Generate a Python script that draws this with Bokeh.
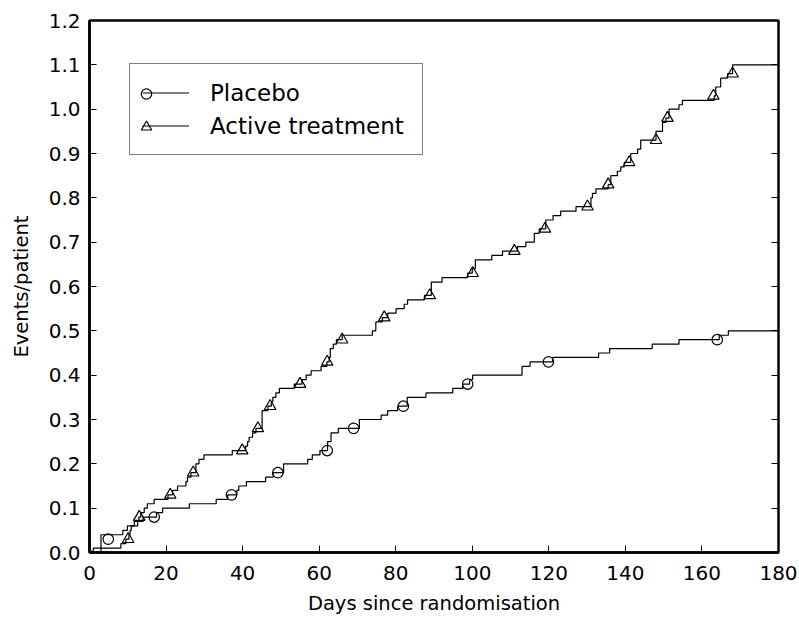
from bokeh.plotting import figure
from bokeh.models import Range1d, LinearAxis, FixedTicker, PrintfTickFormatter, Legend, LegendItem
from bokeh.embed import file_html
from bokeh.resources import INLINE

FONT = "DejaVu Sans"

# ---------------- data ----------------
series_names = ["Placebo", "Active treatment"]

# step curves: day at which each level starts, and the level (events/patient)
placebo_days = [0, 1.0, 3.0, 8.7, 9.9, 11.7, 14.0, 17.5, 19.1, 26.1,
                33.1, 36.1, 38.5, 39.0, 41.0, 46.0, 48.0, 50.7, 57.0, 58.2,
                60.2, 62.2, 63.1, 65.0, 70.5, 76.2, 77.9, 80.5, 83.0, 87.9,
                94.9, 97.5, 99.3, 100.1, 113.0, 115.1, 121.0, 133.0, 135.9, 147.0,
                154.0, 164.5, 166.9, 180.0]
placebo_vals = [0.00, 0.01, 0.04, 0.05, 0.06, 0.07, 0.08, 0.09, 0.10, 0.11,
                0.12, 0.13, 0.14, 0.15, 0.16, 0.17, 0.18, 0.20, 0.21, 0.22,
                0.23, 0.25, 0.27, 0.28, 0.30, 0.31, 0.32, 0.33, 0.35, 0.36,
                0.37, 0.38, 0.39, 0.40, 0.42, 0.43, 0.44, 0.45, 0.46, 0.47,
                0.48, 0.49, 0.50, 0.50]

active_days = [0, 3.0, 8.2, 9.5, 10.3, 10.6, 10.9, 12.6, 12.9, 13.4,
               14.3, 15.1, 16.9, 20.5, 21.7, 23.0, 25.2, 25.6, 26.5, 27.8,
               28.6, 29.9, 37.3, 40.8, 41.3, 41.7, 42.6, 43.5, 45.1, 46.6,
               47.5, 47.9, 48.7, 49.6, 53.5, 55.5, 56.6, 57.9, 60.5, 62.0,
               62.6, 62.9, 63.7, 64.5, 66.0, 73.9, 74.8, 76.5, 77.9, 80.1,
               82.2, 83.1, 87.5, 89.3, 92.1, 98.8, 100.0, 100.8, 105.1, 107.9,
               111.8, 114.0, 116.2, 117.5, 119.2, 121.1, 123.1, 127.1, 131.0, 131.4,
               132.3, 135.5, 136.2, 137.9, 138.8, 139.7, 141.4, 143.2, 144.0, 148.0,
               149.7, 150.6, 151.4, 154.0, 154.9, 163.2, 163.6, 164.9, 166.7, 168.0,
               180.0]
active_vals = [0.00, 0.01, 0.02, 0.03, 0.04, 0.05, 0.06, 0.07, 0.08, 0.09,
               0.10, 0.11, 0.12, 0.13, 0.14, 0.15, 0.16, 0.17, 0.18, 0.20,
               0.21, 0.22, 0.23, 0.24, 0.25, 0.26, 0.27, 0.28, 0.32, 0.33,
               0.34, 0.35, 0.36, 0.37, 0.38, 0.39, 0.40, 0.41, 0.42, 0.43,
               0.44, 0.46, 0.47, 0.48, 0.49, 0.50, 0.52, 0.53, 0.54, 0.55,
               0.56, 0.57, 0.58, 0.61, 0.62, 0.63, 0.64, 0.66, 0.67, 0.68,
               0.69, 0.70, 0.72, 0.73, 0.75, 0.76, 0.77, 0.78, 0.80, 0.81,
               0.82, 0.83, 0.85, 0.86, 0.87, 0.88, 0.90, 0.91, 0.93, 0.95,
               0.97, 0.98, 1.00, 1.01, 1.02, 1.03, 1.05, 1.07, 1.08, 1.10,
               1.10]

# symbols drawn on the curves
placebo_marker_days = [4.9, 16.9, 37.1, 49.2, 62.1, 69.0, 82.0, 98.8, 119.9, 164.0]
placebo_marker_vals = [0.03, 0.08, 0.13, 0.18, 0.23, 0.28, 0.33, 0.38, 0.43, 0.48]
active_marker_days = [10.1, 13.0, 21.1, 27.1, 39.9, 44.0, 47.2, 55.0, 62.1, 66.0, 77.0,
                      88.9, 100.1, 111.0, 119.0, 130.1, 135.5, 141.0, 148.0, 151.0, 163.0, 168.0]
active_marker_vals = [0.03, 0.08, 0.13, 0.18, 0.23, 0.28, 0.33, 0.38, 0.43, 0.48, 0.53,
                      0.58, 0.63, 0.68, 0.73, 0.78, 0.83, 0.88, 0.93, 0.98, 1.03, 1.08]
origin_days = [0]
origin_vals = [0]

x_ticks = [0, 20, 40, 60, 80, 100, 120, 140, 160, 180]
y_ticks = [0.0, 0.1, 0.2, 0.3, 0.4, 0.5, 0.6, 0.7, 0.8, 0.9, 1.0, 1.1, 1.2]
x_title = "Days since randomisation"
y_title = "Events/patient"

# ---------------- figure ----------------
p = figure(width=798, height=619,
           x_range=Range1d(0, 180), y_range=Range1d(0, 1.2),
           output_backend="svg", toolbar_location=None,
           min_border_left=89, min_border_right=20,
           min_border_top=20, min_border_bottom=67)
p.background_fill_color = "white"
p.border_fill_color = "white"
p.grid.visible = False
p.outline_line_color = "black"
p.outline_line_width = 2.5

for ax in (p.xaxis[0], p.yaxis[0]):
    ax.axis_line_color = "black"
    ax.axis_line_width = 2.5
    ax.major_tick_in = 7
    ax.major_tick_out = 0
    ax.major_tick_line_color = "black"
    ax.major_tick_line_width = 1
    ax.minor_tick_line_color = None
    ax.major_label_text_font = FONT
    ax.major_label_text_font_size = "20px"
    ax.major_label_text_color = "black"
    ax.axis_label_text_font = FONT
    ax.axis_label_text_font_size = "19.5px"
    ax.axis_label_text_font_style = "normal"
    ax.axis_label_text_color = "black"

p.xaxis.ticker = FixedTicker(ticks=x_ticks)
p.yaxis.ticker = FixedTicker(ticks=y_ticks)
p.yaxis.formatter = PrintfTickFormatter(format="%.1f")
p.xaxis.axis_label = x_title
p.yaxis.axis_label = y_title
p.xaxis.major_label_standoff = 13
p.xaxis.axis_label_standoff = 9
p.yaxis.major_label_standoff = 9
p.yaxis.axis_label_standoff = 13

# tick marks on the right-hand frame edge (no labels)
right_axis = LinearAxis(ticker=FixedTicker(ticks=y_ticks),
                        axis_line_color=None, major_tick_in=7, major_tick_out=0,
                        major_tick_line_color="black", minor_tick_line_color=None,
                        major_label_overrides={t: "" for t in y_ticks},
                        major_label_standoff=0)
p.add_layout(right_axis, "right")

# ---------------- curves ----------------
pl_line = p.step(x=placebo_days, y=placebo_vals, mode="after", line_color="black", line_width=1.2)
ac_line = p.step(x=active_days, y=active_vals, mode="after", line_color="black", line_width=1.2)

pl_mk = p.scatter(x=placebo_marker_days, y=placebo_marker_vals, marker="circle", size=10.5,
                  fill_color=None, line_color="black", line_width=1.2)
ac_mk = p.scatter(x=active_marker_days, y=active_marker_vals, marker="triangle", size=11.5,
                  fill_color=None, line_color="black", line_width=1.2)
p.scatter(x=origin_days, y=origin_vals, marker="circle", size=5,
          fill_color=None, line_color="black", line_width=1)
p.scatter(x=origin_days, y=origin_vals, marker="triangle", size=5,
          fill_color=None, line_color="black", line_width=1)

# ---------------- legend ----------------
legend_lines = Legend(
    items=[LegendItem(label=series_names[0], renderers=[pl_line]),
           LegendItem(label=series_names[1], renderers=[ac_line])],
    location=(40, 397), orientation="vertical",
    glyph_width=47, glyph_height=33, label_height=33, label_width=200,
    label_standoff=21, padding=12, spacing=0, margin=0,
    border_line_color="black", border_line_width=1,
    background_fill_color="white", background_fill_alpha=1.0,
    label_text_font=FONT, label_text_font_size="23px", label_text_color="black")
p.add_layout(legend_lines)

# symbols at the left end of the legend lines (legend without border has no padding)
legend_marks = Legend(
    items=[LegendItem(label=" ", renderers=[pl_mk]),
           LegendItem(label=" ", renderers=[ac_mk])],
    location=(44, 409), orientation="vertical",
    glyph_width=26, glyph_height=33, label_height=33, label_width=0,
    label_standoff=0, padding=0, spacing=0, margin=0,
    border_line_color=None, background_fill_alpha=0.0,
    label_text_font=FONT, label_text_font_size="23px")
p.add_layout(legend_marks)

open("out.html", "w").write(file_html(p, INLINE))
